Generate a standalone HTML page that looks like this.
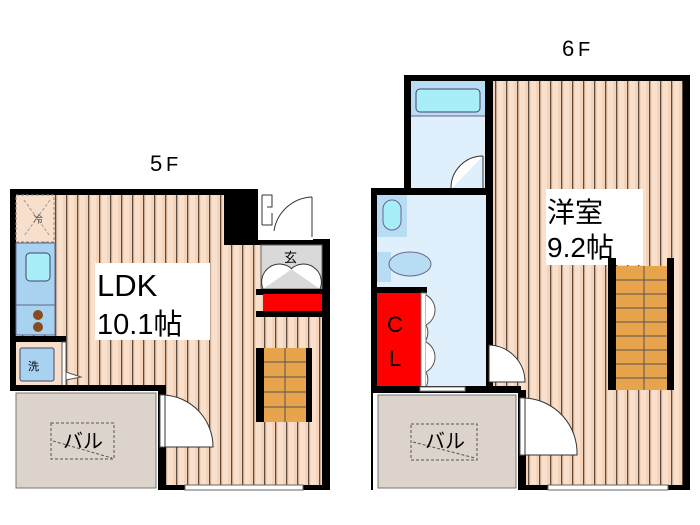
<!DOCTYPE html>
<html><head><meta charset="utf-8"><style>
html,body{margin:0;padding:0;background:#fff;width:700px;height:525px;overflow:hidden}
svg{display:block}
text{font-family:"Liberation Sans","Noto Sans CJK JP",sans-serif}
</style></head><body>
<svg width="700" height="525" viewBox="0 0 700 525" xmlns="http://www.w3.org/2000/svg">
<defs>
<pattern id="st" x="0" y="0" width="11" height="10" patternUnits="userSpaceOnUse">
<rect width="11" height="10" fill="#f5d3b8"/>
<rect x="3" width="5" height="10" fill="#f9e0cc"/>
<rect x="0" width="1.3" height="10" fill="#5a4a40"/>
</pattern>
</defs>
<text x="150" y="171" font-size="22">5</text><text x="166" y="171" font-size="20">F</text>
<text x="562" y="56" font-size="22">6</text><text x="578" y="56" font-size="20">F</text>

<!-- 5F -->
<rect x="10" y="189" width="253" height="301" fill="#000"/>
<rect x="256" y="239" width="74" height="251" fill="#000"/>
<rect x="16" y="195" width="208" height="290" fill="url(#st)"/>
<rect x="200" y="245" width="122" height="240" fill="url(#st)"/>
<!-- door top -->
<rect x="258" y="189" width="55" height="51" fill="#fff"/>
<path d="M262 195 v30 M262 195 h10 v12 h-5 M262 225 h10 v-12" stroke="#333" fill="none" stroke-width="1"/>
<path d="M312 197 v40 M312 197 a40 40 0 0 0 -38 34" stroke="#333" fill="none"/>
<!-- genkan -->
<rect x="261" y="245" width="61" height="44" fill="#d9d9d9" stroke="#666"/>
<text x="284" y="262" font-size="13">玄</text>
<path d="M263 289 a18 18 0 0 1 29 -20 M320 289 a18 18 0 0 0 -29 -20" stroke="#333" fill="#fff"/>
<rect x="256" y="289" width="74" height="6" fill="#000"/>
<rect x="263" y="294" width="59" height="17" fill="#f00"/>
<rect x="256" y="311" width="74" height="6" fill="#000"/>
<!-- kitchen -->
<rect x="16" y="195" width="38" height="47" fill="#f8dfcb" stroke="#888" stroke-dasharray="3,2"/>
<path d="M24 200 L50 236 M50 200 L24 236" stroke="#999" stroke-dasharray="3,2"/>
<text x="33" y="223" font-size="10" fill="#555">冷</text>
<rect x="16" y="243" width="39" height="92" fill="#a8d3f0" stroke="#668"/>
<rect x="26" y="253" width="24" height="28" rx="4" fill="#a8eef8" stroke="#446"/>
<line x1="16" y1="305" x2="55" y2="305" stroke="#668"/>
<circle cx="38" cy="315" r="5" fill="#8a4a20"/><circle cx="38" cy="327" r="5" fill="#8a4a20"/>
<rect x="16" y="336" width="50" height="6" fill="#000"/>
<rect x="16" y="342" width="45" height="43" fill="#f8dfcb"/>
<rect x="20" y="348" width="34" height="33" rx="2" fill="#a8d3f0" stroke="#446"/>
<text x="28" y="370" font-size="11">洗</text>
<path d="M66 372 l15 5 l-15 3z" fill="#fff" stroke="#555"/>
<rect x="62" y="342" width="4" height="45" fill="#fff" stroke="#555"/>
<!-- balcony -->
<rect x="10" y="385" width="155" height="6" fill="#000"/>
<rect x="10" y="391" width="150" height="99" fill="#fff"/>
<rect x="16" y="393" width="140" height="95" fill="#dcd3cb" stroke="#777"/>
<rect x="51" y="423" width="63" height="36" fill="none" stroke="#555" stroke-dasharray="3,2"/>
<path d="M53 441 L112 458" stroke="#555" stroke-dasharray="3,2"/>
<text x="63" y="448" font-size="20">バル</text>
<rect x="158" y="385" width="8" height="105" fill="#000"/>
<rect x="160" y="395" width="5" height="52" fill="#fff" stroke="#555"/>
<path d="M165 395 a52 52 0 0 1 48 52 h-48z" fill="#fff" stroke="#333"/>
<rect x="185" y="485" width="118" height="5" fill="#fff" stroke="#666"/>
<!-- LDK label -->
<rect x="95" y="263" width="115" height="77" fill="#fff"/>
<text x="97" y="296" font-size="31">LDK</text>
<text x="97" y="334" font-size="29">10.1帖</text>
<!-- stairs -->
<rect x="256" y="348" width="56" height="74" fill="#000"/>
<rect x="264" y="348" width="42" height="74" fill="#e8a44c"/>
<g stroke="#555"><line x1="264" y1="362" x2="306" y2="362"/><line x1="264" y1="377" x2="306" y2="377"/><line x1="264" y1="392" x2="306" y2="392"/><line x1="264" y1="407" x2="306" y2="407"/><line x1="285" y1="348" x2="285" y2="422"/></g>

<!-- 6F -->
<rect x="404" y="75" width="286" height="415" fill="#000"/>
<rect x="371" y="188" width="40" height="302" fill="#000"/>
<rect x="493" y="81" width="190" height="404" fill="url(#st)"/>
<rect x="411" y="81" width="74" height="110" fill="#dff0fc"/>
<rect x="411" y="81" width="74" height="35" fill="#b8dcf4"/>
<rect x="416" y="89" width="64" height="23" rx="4" fill="#a8eef8" stroke="#446"/>
<line x1="411" y1="116" x2="485" y2="116" stroke="#668"/>
<path d="M483 156 v35 M483 156 a32 32 0 0 0 -32 33" stroke="#333" fill="#fff"/>
<rect x="371" y="188" width="122" height="7" fill="#000"/>
<rect x="377" y="195" width="109" height="195" fill="#dff0fc"/>
<rect x="377" y="195" width="30" height="42" fill="#b8dcf4"/>
<rect x="383" y="200" width="18" height="30" rx="9" fill="#a8eef8" stroke="#668"/>
<rect x="377" y="252" width="14" height="30" fill="#b8dcf4"/>
<ellipse cx="410" cy="264" rx="21" ry="12" fill="#b8dcf4" stroke="#668"/>
<rect x="377" y="287" width="50" height="6" fill="#000"/>
<rect x="377" y="293" width="44" height="94" fill="#f00"/>
<text x="387" y="332" font-size="22">C</text><text x="389" y="366" font-size="22">L</text>
<rect x="421" y="293" width="5" height="94" fill="#fff" stroke="#777"/>
<path d="M426 295 a17 17 0 0 1 0 30 M426 325 a17 17 0 0 1 0 15 M426 342 a17 17 0 0 1 0 30 M426 372 a17 17 0 0 1 0 15" stroke="#555" fill="#fff"/>
<rect x="371" y="386" width="150" height="7" fill="#000"/>
<rect x="420" y="387" width="45" height="4" fill="#fff" stroke="#777"/>
<rect x="486" y="81" width="7" height="312" fill="#000"/>
<path d="M489 345 a37 37 0 0 1 36 37 h-36z" fill="#fff" stroke="#333"/>
<rect x="373" y="393" width="147" height="97" fill="#fff"/>
<rect x="378" y="395" width="138" height="93" fill="#dcd3cb" stroke="#777"/>
<rect x="411" y="424" width="66" height="36" fill="none" stroke="#555" stroke-dasharray="3,2"/>
<path d="M413 442 L475 458" stroke="#555" stroke-dasharray="3,2"/>
<text x="425" y="448" font-size="20">バル</text>
<rect x="518" y="390" width="8" height="100" fill="#000"/>
<rect x="520" y="398" width="5" height="57" fill="#fff" stroke="#555"/>
<path d="M525 398 a55 55 0 0 1 52 57 h-52z" fill="#fff" stroke="#333"/>
<rect x="548" y="485" width="120" height="5" fill="#fff" stroke="#666"/>
<!-- label -->
<rect x="546" y="189" width="97" height="76" fill="#fff"/>
<text x="547" y="222" font-size="28">洋室</text>
<text x="547" y="257" font-size="28">9.2帖</text>
<!-- stairs 6F -->
<rect x="608" y="258" width="8" height="132" fill="#000"/>
<rect x="667" y="258" width="7" height="132" fill="#000"/>
<rect x="616" y="266" width="51" height="124" fill="#e8a44c"/>
<g stroke="#555"><line x1="616" y1="280" x2="667" y2="280"/><line x1="616" y1="294" x2="667" y2="294"/><line x1="616" y1="308" x2="667" y2="308"/><line x1="616" y1="322" x2="667" y2="322"/><line x1="616" y1="336" x2="667" y2="336"/><line x1="616" y1="350" x2="667" y2="350"/><line x1="616" y1="364" x2="667" y2="364"/><line x1="616" y1="378" x2="667" y2="378"/><line x1="644" y1="266" x2="644" y2="390"/></g>
</svg>
</body></html>
